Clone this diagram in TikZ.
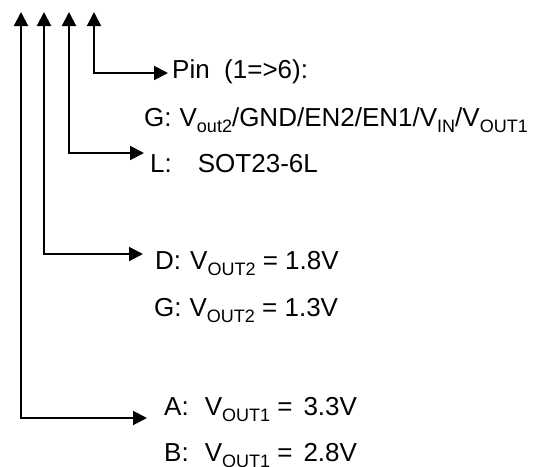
\documentclass[tikz,border=0pt]{standalone}
\usepackage{fontspec}
\setmainfont{Liberation Sans}
\usetikzlibrary{arrows.meta}
\newcommand\lo[1]{\raisebox{-0.26em}{\fontsize{18}{18}\selectfont #1}}
\tikzset{
  conn/.style={line width=2pt, {Triangle[length=14pt,width=14pt]}-{Triangle[length=14pt,width=14pt]}},
  lbl/.style={anchor=base west, inner sep=0pt, font=\fontsize{26}{30}\selectfont}
}
\begin{document}
\begin{tikzpicture}[x=1pt,y=-1pt]
\useasboundingbox (0,0) rectangle (546,466);
% label nodes
\node[lbl] (pin) at (172,78) {Pin\ \ (1=>6):};
\node[lbl] (g1) at (144,126) {G:\hspace{8pt}V\lo{out2}/GND/EN2/EN1/V\lo{IN}/V\lo{OUT1}};
\node[lbl] (l) at (150,172) {L:\hspace{26pt}SOT23-6L};
\node[lbl] (d) at (155,269) {D:\hspace{9pt}V\lo{OUT2} = 1.8V};
\node[lbl] (g2) at (154,316) {G:\hspace{8pt}V\lo{OUT2} = 1.3V};
\node[lbl] (a) at (164,415) {A:\hspace{16pt}V\lo{OUT1} =\hspace{11pt}3.3V};
\node[lbl] (b) at (164,461) {B:\hspace{16pt}V\lo{OUT1} =\hspace{11pt}2.8V};
% connector points
\coordinate (t1) at (21,12);  \coordinate (c1) at (21,418); \coordinate (e1) at (147,418);
\coordinate (t2) at (44,12);  \coordinate (c2) at (44,254); \coordinate (e2) at (143,254);
\coordinate (t3) at (69,12);  \coordinate (c3) at (69,153); \coordinate (e3) at (144,153);
\coordinate (t4) at (94,12);  \coordinate (c4) at (94,73);  \coordinate (e4) at (168,73);
\draw[conn] (t1) -- (c1) -- (e1);
\draw[conn] (t2) -- (c2) -- (e2);
\draw[conn] (t3) -- (c3) -- (e3);
\draw[conn] (t4) -- (c4) -- (e4);
\end{tikzpicture}
\end{document}
